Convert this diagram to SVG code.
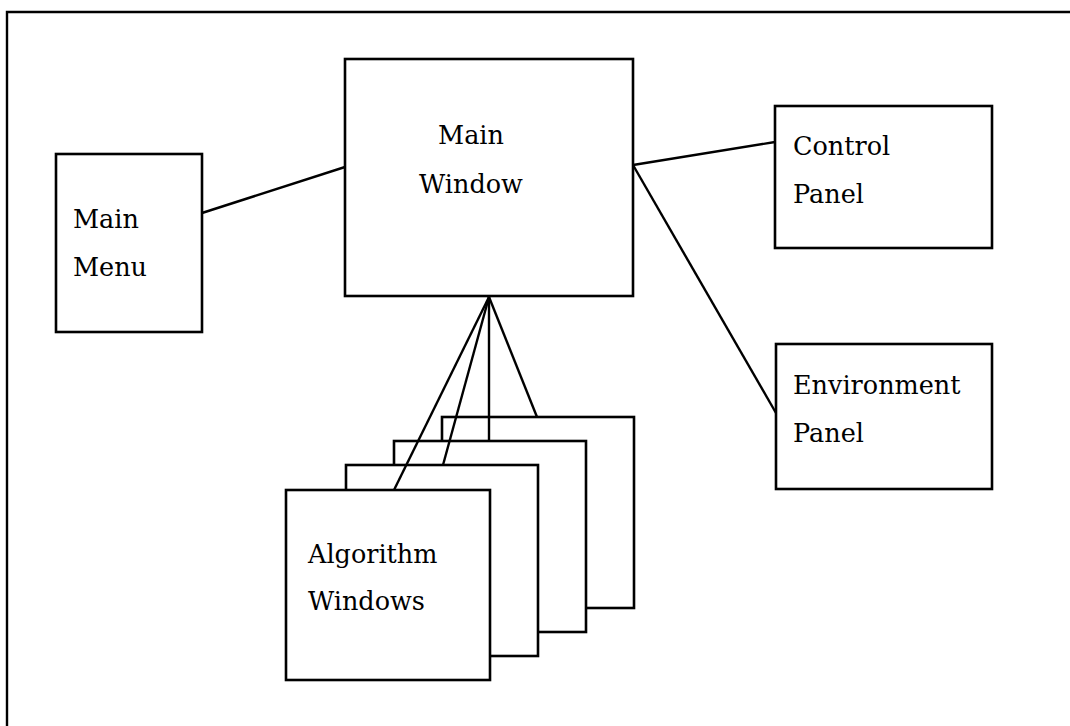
<svg xmlns="http://www.w3.org/2000/svg" width="1070" height="726" viewBox="0 0 1070 726">
<style>
.box{fill:#fff;stroke:#000;stroke-width:2.6}
.ln{stroke:#000;stroke-width:2.4;fill:none}
.t{font-family:"DejaVu Serif","Liberation Serif",serif;font-size:25.5px;fill:#000}
</style>
<rect width="1070" height="726" fill="#fff"/>
<g id="frame"><path d="M7 726 V12 H1070" class="ln" stroke-width="2.6"/></g>
<g id="connectors">
<line class="ln" x1="202" y1="213" x2="345" y2="167"/>
<line class="ln" x1="633" y1="165" x2="775" y2="142"/>
<line class="ln" x1="633" y1="165" x2="776" y2="413"/>
</g>
<g id="main-menu"><rect class="box" x="56" y="154" width="146" height="178"/>
<text class="t" x="73" y="228">Main</text><text class="t" x="73" y="276">Menu</text></g>
<g id="main-window"><rect class="box" x="345" y="59" width="288" height="237"/>
<text class="t" x="471" y="144" text-anchor="middle">Main</text><text class="t" x="471" y="193" text-anchor="middle">Window</text></g>
<g id="control-panel"><rect class="box" x="775" y="106" width="217" height="142"/>
<text class="t" x="793" y="155">Control</text><text class="t" x="793" y="203">Panel</text></g>
<g id="environment-panel"><rect class="box" x="776" y="344" width="216" height="145"/>
<text class="t" x="793" y="394">Environment</text><text class="t" x="793" y="442">Panel</text></g>
<g id="algorithm-windows">
<rect class="box" x="442" y="417" width="192" height="191"/>
<rect class="box" x="394" y="441" width="192" height="191"/>
<rect class="box" x="346" y="465" width="192" height="191"/>
<rect class="box" x="286" y="490" width="204" height="190"/>
<text class="t" x="308" y="563">Algorithm</text><text class="t" x="308" y="610">Windows</text>
</g>
<g id="connectors-aw">
<line class="ln" x1="489" y1="297" x2="394" y2="490"/>
<line class="ln" x1="489" y1="297" x2="443" y2="465"/>
<line class="ln" x1="489" y1="297" x2="489" y2="441"/>
<line class="ln" x1="489" y1="297" x2="537" y2="417"/>
</g>
</svg>
